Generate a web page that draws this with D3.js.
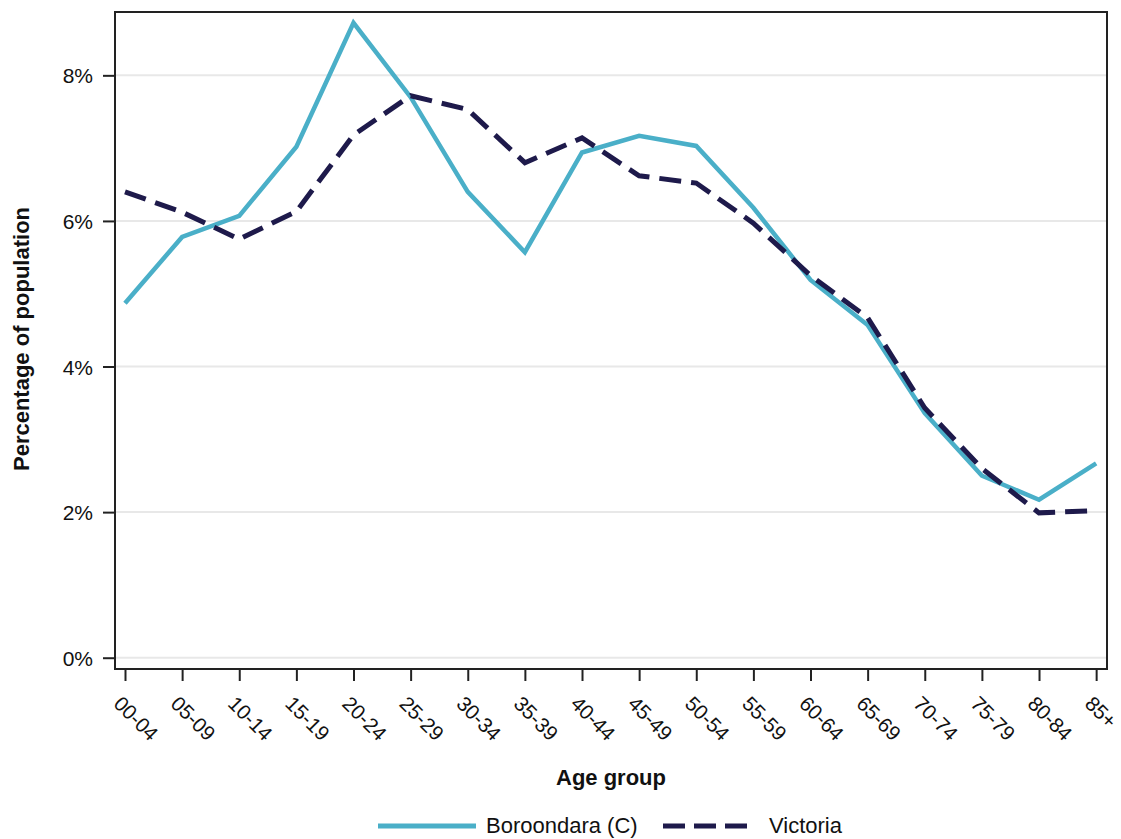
<!DOCTYPE html>
<html>
<head>
<meta charset="utf-8">
<script src="https://cdn.jsdelivr.net/npm/d3@7"></script>
<style>
  html, body { margin: 0; padding: 0; background: #fff; }
  svg text { font-family: "Liberation Sans", Arial, Helvetica, sans-serif; }
</style>
</head>
<body>
<svg id="chart" width="1121" height="839"></svg>
<script>
const categories = ["00-04","05-09","10-14","15-19","20-24","25-29","30-34","35-39","40-44","45-49","50-54","55-59","60-64","65-69","70-74","75-79","80-84","85+"];
const boroondara = [4.87, 5.78, 6.07, 7.02, 8.72, 7.70, 6.40, 5.57, 6.94, 7.17, 7.03, 6.18, 5.19, 4.57, 3.36, 2.50, 2.17, 2.67];
const victoria   = [6.40, 6.12, 5.75, 6.13, 7.18, 7.72, 7.53, 6.80, 7.14, 6.62, 6.52, 5.97, 5.25, 4.67, 3.43, 2.60, 1.99, 2.02];
const yTicks = [0, 2, 4, 6, 8];
const seriesNames = ["Boroondara (C)", "Victoria"];

(function () {
const svg = d3.select("#chart");
const pLeft = 115, pRight = 1107, pTop = 12, pBottom = 669;
const cyan = "#4aafc8", navy = "#1e1a4b";

const x = d3.scaleLinear().domain([-0.175, categories.length - 1 + 0.19]).range([pLeft, pRight]);
const y = d3.scaleLinear().domain([-0.155, 8.87]).range([pBottom, pTop]);

// gridlines
svg.append("g").selectAll("line").data(yTicks).join("line")
  .attr("x1", pLeft).attr("x2", pRight)
  .attr("y1", d => y(d)).attr("y2", d => y(d))
  .attr("stroke", "#e8e8e8").attr("stroke-width", 2);

// y axis
const yAxis = svg.append("g").attr("transform", `translate(${pLeft},0)`)
  .call(d3.axisLeft(y).tickValues(yTicks).tickFormat(d => d + "%").tickSize(12).tickPadding(10));
yAxis.select(".domain").remove();
yAxis.selectAll("line").attr("stroke", "#222").attr("stroke-width", 2);
yAxis.selectAll("text").attr("font-size", 21).attr("fill", "#111").attr("dy", "0.36em");

// x axis
const xAxis = svg.append("g").attr("transform", `translate(0,${pBottom})`)
  .call(d3.axisBottom(x).tickValues(d3.range(categories.length)).tickFormat(i => categories[i]).tickSize(12).tickPadding(0));
xAxis.select(".domain").remove();
xAxis.selectAll("line").attr("stroke", "#222").attr("stroke-width", 2);
xAxis.selectAll("text")
  .attr("font-size", 20.5).attr("fill", "#111")
  .attr("text-anchor", "start")
  .attr("y", 0).attr("dy", 0)
  .attr("transform", `translate(-13,36) rotate(45)`);

// frame
svg.append("rect").attr("x", pLeft).attr("y", pTop).attr("width", pRight - pLeft).attr("height", pBottom - pTop)
  .attr("fill", "none").attr("stroke", "#222").attr("stroke-width", 2);

const line = d3.line().x((d, i) => x(i)).y(d => y(d));

svg.append("path").datum(boroondara).attr("d", line)
  .attr("fill", "none").attr("stroke", cyan).attr("stroke-width", 4.5).attr("stroke-linejoin", "miter");
svg.append("path").datum(victoria).attr("d", line)
  .attr("fill", "none").attr("stroke", navy).attr("stroke-width", 5)
  .attr("stroke-dasharray", "22,10");

// axis titles
svg.append("text").attr("x", 611).attr("y", 785).attr("text-anchor", "middle")
  .attr("font-size", 22).attr("font-weight", "bold").attr("fill", "#111").text("Age group");
svg.append("text").attr("transform", "translate(29,339) rotate(-90)").attr("text-anchor", "middle")
  .attr("font-size", 22).attr("font-weight", "bold").attr("fill", "#111").text("Percentage of population");

// legend
const lg = svg.append("g");
lg.append("line").attr("x1", 378).attr("x2", 476).attr("y1", 826).attr("y2", 826)
  .attr("stroke", cyan).attr("stroke-width", 5);
lg.append("text").attr("x", 486).attr("y", 833).attr("font-size", 22).attr("fill", "#111").text(seriesNames[0]);
lg.append("line").attr("x1", 663).attr("x2", 748).attr("y1", 826).attr("y2", 826)
  .attr("stroke", navy).attr("stroke-width", 5).attr("stroke-dasharray", "22,9");
lg.append("text").attr("x", 769).attr("y", 833).attr("font-size", 22).attr("fill", "#111").text(seriesNames[1]);
})();
</script>
</body>
</html>
